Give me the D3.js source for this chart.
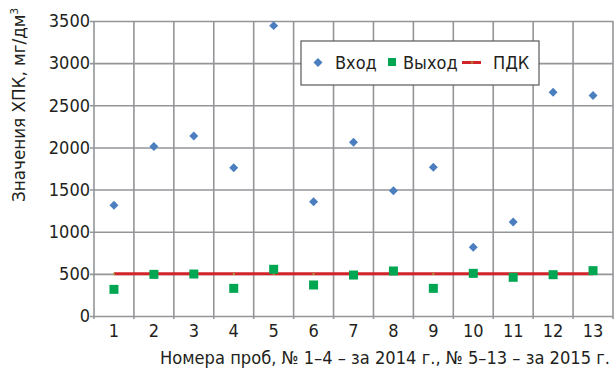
<!DOCTYPE html>
<html>
<head>
<meta charset="utf-8">
<script src="https://cdn.jsdelivr.net/npm/d3@7"></script>
<style>
  body { margin: 0; background: #fff; }
  svg text { font-family: "Liberation Sans Narrow", "DejaVu Sans Condensed", "Roboto", sans-serif; fill: #231f20; }
</style>
</head>
<body>
<svg id="chart" width="616" height="368"></svg>
<script>
// data
const samples = ["1","2","3","4","5","6","7","8","9","10","11","12","13"];
const inflow = [1315, 2010, 2135, 1760, 3445, 1356, 2062, 1487, 1764, 815, 1115, 2655, 2615];
const outflow = [316, 494, 498, 328, 554, 368, 486, 534, 328, 506, 459, 490, 538];
const limitValue = 500;
const yTicks = [0, 500, 1000, 1500, 2000, 2500, 3000, 3500];
const legendNames = ["Вход", "Выход", "ПДК"];

const gridColor = "#939598";
const blue = "#4a7ebf";
const green = "#00a651";
const red = "#d2232a";

const margin = {top: 21, right: 3, bottom: 52, left: 94};
const svg = d3.select("#chart");
const W = 616 - margin.left - margin.right;
const H = 368 - margin.top - margin.bottom;

let g = svg.append("g")
    .attr("transform", "translate(" + margin.left + "," + margin.top + ")");

let x = d3.scaleBand()
    .domain(samples)
    .range([0, W]);

let y = d3.scaleLinear()
    .domain([0, 3500])
    .range([H, 0]);

// horizontal grid + y ticks
g.append("g")
    .call(d3.axisLeft(y).tickValues(yTicks).tickFormat(d3.format("d"))
        .tickSize(-W).tickPadding(4).tickSizeOuter(0))
    .call(a => a.select(".domain").remove())
    .call(a => a.selectAll("line").attr("stroke", gridColor).attr("stroke-width", 1.6).attr("x1", -4))
    .call(a => a.selectAll("text").attr("font-size", 18).attr("fill", "#231f20"));

// vertical grid at band boundaries
const bounds = samples.map(d => x(d)).concat([W]);
g.append("g")
    .selectAll("line")
    .data(bounds)
    .enter()
    .append("line")
    .attr("x1", d => d)
    .attr("x2", d => d)
    .attr("y1", 0)
    .attr("y2", H + 3)
    .attr("stroke", gridColor)
    .attr("stroke-width", 1.6);

// x tick labels
g.append("g")
    .attr("transform", "translate(0," + H + ")")
    .call(d3.axisBottom(x).tickSize(0).tickPadding(8))
    .call(a => a.select(".domain").remove())
    .call(a => a.selectAll("text").attr("font-size", 18).attr("fill", "#231f20"));

// ПДК line
const cx = d => x(d) + x.bandwidth() / 2;
g.append("line")
    .attr("x1", cx(samples[0]))
    .attr("x2", cx(samples[samples.length - 1]))
    .attr("y1", y(limitValue))
    .attr("y2", y(limitValue))
    .attr("stroke", red)
    .attr("stroke-width", 3);

g.selectAll(".pdk-dot")
    .data(samples)
    .enter()
    .append("rect")
    .attr("class", "pdk-dot")
    .attr("x", d => cx(d) - 1)
    .attr("y", y(limitValue) - 1)
    .attr("width", 2)
    .attr("height", 2)
    .attr("fill", "#a89a3a");

// Вход diamonds
const diamond = d3.symbol().type(d3.symbolSquare).size(40);
g.selectAll(".inflow")
    .data(inflow)
    .enter()
    .append("path")
    .attr("class", "inflow")
    .attr("d", diamond)
    .attr("fill", blue)
    .attr("transform", (d, i) => "translate(" + cx(samples[i]) + "," + y(d) + ") rotate(45)");

// Выход squares
const sq = 9;
g.selectAll(".outflow")
    .data(outflow)
    .enter()
    .append("rect")
    .attr("class", "outflow")
    .attr("x", (d, i) => cx(samples[i]) - sq / 2)
    .attr("y", d => y(d) - sq / 2)
    .attr("width", sq)
    .attr("height", sq)
    .attr("fill", green);

// legend
let legend = svg.append("g").attr("transform", "translate(301,41)");
legend.append("rect")
    .attr("width", 238)
    .attr("height", 44)
    .attr("fill", "#fff")
    .attr("stroke", "#58595b")
    .attr("stroke-width", 1.2);
legend.append("path")
    .attr("d", diamond)
    .attr("fill", blue)
    .attr("transform", "translate(17,21.5) rotate(45)");
legend.append("text").attr("x", 34).attr("y", 28).attr("font-size", 18).text(legendNames[0]);
legend.append("rect")
    .attr("x", 87).attr("y", 17).attr("width", 8).attr("height", 8).attr("fill", green);
legend.append("text").attr("x", 102).attr("y", 28).attr("font-size", 18).text(legendNames[1]);
legend.append("line")
    .attr("x1", 161).attr("x2", 180).attr("y1", 21.5).attr("y2", 21.5)
    .attr("stroke", red).attr("stroke-width", 3);
legend.append("rect")
    .attr("x", 170).attr("y", 20.5).attr("width", 2).attr("height", 2).attr("fill", "#a89a3a");
legend.append("text").attr("x", 192).attr("y", 28).attr("font-size", 18).text(legendNames[2]);

// axis titles
svg.append("text")
    .attr("x", 610)
    .attr("y", 364)
    .attr("text-anchor", "end")
    .attr("font-size", 18)
    .attr("textLength", 450)
    .attr("lengthAdjust", "spacingAndGlyphs")
    .text("Номера проб, № 1–4 – за 2014 г., № 5–13 – за 2015 г.");

let yTitle = svg.append("text")
    .attr("transform", "translate(25,202) rotate(-90)")
    .attr("font-size", 18)
    .attr("textLength", 194)
    .attr("lengthAdjust", "spacingAndGlyphs");
yTitle.append("tspan").text("Значения ХПК, мг/дм");
yTitle.append("tspan").attr("font-size", 11).attr("dy", -7).text("3");
</script>
</body>
</html>
